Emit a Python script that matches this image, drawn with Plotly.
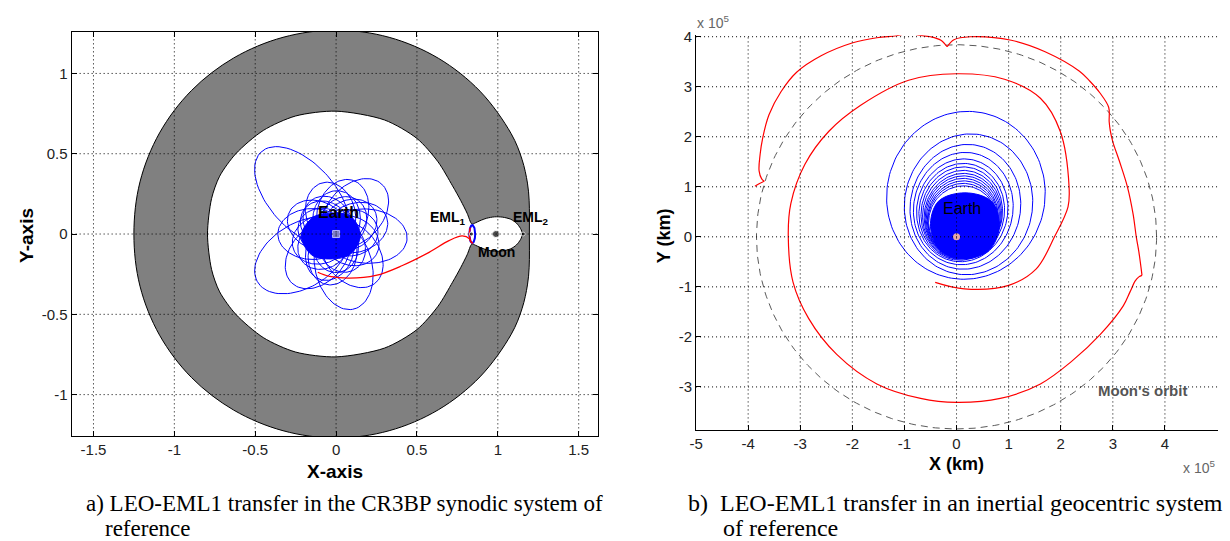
import numpy as np
import plotly.graph_objects as go

# ================= Panel a) CR3BP synodic frame =================
a_xticks = [-1.5, -1, -0.5, 0, 0.5, 1, 1.5]
a_xticklabels = ["-1.5", "-1", "-0.5", "0", "0.5", "1", "1.5"]
a_yticks = [-1, -0.5, 0, 0.5, 1]
a_yticklabels = ["-1", "-0.5", "0", "0.5", "1"]

# zero-velocity curve: outer boundary (upper half, polar)
zvc_outer_deg = [0, 5, 10, 15, 22, 30, 45, 60, 75, 90, 105, 120, 135, 150, 165, 180]
zvc_outer_r = [1.195, 1.20, 1.212, 1.225, 1.24, 1.25, 1.258, 1.264, 1.268, 1.27,
               1.268, 1.266, 1.264, 1.26, 1.255, 1.25]

# zero-velocity curve: inner boundary (upper half, from L2 tip over Moon lobe, neck, Earth region)
zvc_inner_x = [1.152, 1.14, 1.115, 1.08, 1.03, 0.98, 0.93, 0.89, 0.862, 0.84,
               0.81, 0.77, 0.72, 0.63, 0.50, 0.30, 0.0, -0.25, -0.45, -0.62, -0.72, -0.77, -0.795]
zvc_inner_y = [0.0, 0.035, 0.068, 0.092, 0.105, 0.107, 0.098, 0.083, 0.07, 0.062,
               0.13, 0.21, 0.30, 0.45, 0.595, 0.71, 0.765, 0.735, 0.645, 0.50, 0.36, 0.22, 0.0]

# rosette of Earth-bound loops: apogee direction (deg), apogee and perigee distance
petal_dir = [132, -4, 212, -77, 48, 73, 180, 229, -52, 105, 155, 18, -100, 250,
             35, 200, 88, -25, 125, -140, 60, 165, -65, 270, 5, 140]
petal_apo = [0.69, 0.44, 0.57, 0.48, 0.42, 0.35, 0.36, 0.41, 0.39, 0.33, 0.32, 0.33, 0.32, 0.30,
             0.28, 0.28, 0.27, 0.28, 0.26, 0.27, 0.25, 0.24, 0.25, 0.24, 0.26, 0.25]
petal_peri = [0.06, 0.065, 0.07, 0.065, 0.07, 0.07, 0.07, 0.07, 0.07, 0.07, 0.07, 0.07, 0.07, 0.07,
              0.08, 0.08, 0.08, 0.08, 0.08, 0.08, 0.08, 0.08, 0.08, 0.08, 0.08, 0.08]

# dense LEO core (polar radii around its centre)
a_core_center = (-0.03, -0.01)
a_core_deg = [0, 45, 90, 135, 180, 225, 270, 315, 360]
a_core_r = [0.18, 0.17, 0.14, 0.16, 0.185, 0.17, 0.145, 0.165, 0.18]

# transfer arc (red) into the L1 orbit
a_red_x = [-0.113, -0.04, 0.082, 0.246, 0.41, 0.575, 0.698, 0.78, 0.825, 0.833]
a_red_y = [-0.238, -0.264, -0.275, -0.258, -0.196, -0.114, -0.041, -0.012, -0.03, -0.05]

# L1 periodic orbit (ellipse centre, semi-axes)
l1_orbit = dict(cx=0.842, cy=0.0, ax=0.018, ay=0.056)

bodies_x = [0.0, 0.836, 0.988, 1.156]
bodies_y = [0.0, 0.0, 0.0, 0.0]

# ================= Panel b) inertial geocentric frame (x 1e5 km) =================
b_xticks = [-5, -4, -3, -2, -1, 0, 1, 2, 3, 4]
b_xticklabels = ["-5", "-4", "-3", "-2", "-1", "0", "1", "2", "3", "4"]
b_yticks = [-3, -2, -1, 0, 1, 2, 3, 4]
b_yticklabels = ["-3", "-2", "-1", "0", "1", "2", "3", "4"]

moon_orbit_r = 3.84

# blue spiral loops: centre, semi-axes
loop_cx = [0.18, 0.23, 0.17, 0.13, 0.11, 0.10, 0.10, 0.105, 0.11, 0.11, 0.11, 0.115, 0.115, 0.12]
loop_cy = [0.83, 0.65, 0.60, 0.565, 0.53, 0.50, 0.475, 0.445, 0.42, 0.40, 0.375, 0.355, 0.33, 0.31]
loop_ax = [1.52, 1.23, 1.06, 0.955, 0.875, 0.82, 0.78, 0.755, 0.73, 0.71, 0.69, 0.675, 0.665, 0.655]
loop_ay = [1.68, 1.41, 1.25, 1.125, 1.03, 0.97, 0.925, 0.885, 0.85, 0.82, 0.795, 0.765, 0.74, 0.71]

b_core_center = (0.16, 0.2)
b_core_deg = [0, 45, 90, 135, 180, 225, 270, 315, 360]
b_core_r = [0.66, 0.72, 0.68, 0.72, 0.66, 0.66, 0.64, 0.66, 0.66]

# red transfer trajectory (segments separated at cusps)
b_red_x = [-0.41, 0.15, 1.0, 1.53, 1.88, 2.14, 2.16, 1.99, 1.61, 0.92, 0.0, -0.92, -1.84, -2.45,
           -2.91, -3.18, -3.23, -3.14, -2.84, -2.30, -1.53, -0.69, 0.0, 0.84, 1.61, 2.22, 2.76,
           3.2, 3.33, 3.43, 3.5, 3.56, None,
           3.56, 3.5, 3.45, 3.39, 3.28, 3.13, 3.0, 2.95, 2.93, 2.92, 2.75, 2.56, 2.36, 1.7,
           1.05, 0.26, -0.05, -0.18, None,
           -0.18, -0.3, -0.5, -0.72, -0.9, -1.15, -1.53, -1.99, -2.6, -3.07, -3.37, -3.6, -3.72,
           -3.77, -3.79, -3.74, -3.69, None,
           -3.69, -3.79, -3.87]
b_red_y = [-0.91, -1.04, -0.97, -0.64, 0.0, 0.6, 1.0, 2.11, 2.77, 3.15, 3.26, 3.13, 2.63, 2.11,
           1.45, 0.67, 0.01, -0.90, -1.63, -2.35, -2.94, -3.23, -3.31, -3.23, -2.94, -2.48, -1.95,
           -1.38, -1.1, -0.88, -0.8, -0.77, None,
           -0.77, -0.3, 0.0, 0.45, 1.0, 1.5, 1.9, 2.13, 2.3, 2.59, 2.88, 3.11, 3.31, 3.7,
           3.93, 4.0, 3.94, 3.8, None,
           3.8, 3.93, 4.0, 4.03, 4.07, 4.02, 3.98, 3.88, 3.62, 3.29, 2.9, 2.44, 1.98,
           1.65, 1.32, 1.16, 1.11, None,
           1.11, 1.06, 1.01]

# ---------------------------------------------------------------
FONT = "Liberation Sans, Arial, sans-serif"
SERIF = "Liberation Serif, Times New Roman, serif"
BLUE = "#0000ff"
RED = "#ff0000"

fig = go.Figure()


def polar_closed(deg, r, c=(0.0, 0.0)):
    t = np.radians(deg)
    return (c[0] + np.array(r) * np.cos(t)).tolist(), (c[1] + np.array(r) * np.sin(t)).tolist()


# --- gray forbidden region (disk) ---
up_deg = zvc_outer_deg
full_deg = up_deg + [360 - d for d in up_deg[::-1][1:]]
full_r = zvc_outer_r + zvc_outer_r[::-1][1:]
ox, oy = polar_closed(full_deg, full_r)
fig.add_trace(go.Scatter(x=ox, y=oy, mode="lines", fill="toself", fillcolor="#808080",
                         line=dict(color="black", width=1, shape="spline"),
                         xaxis="x", yaxis="y", hoverinfo="skip", showlegend=False))

# --- allowed region (white hole) ---
hx = zvc_inner_x + zvc_inner_x[::-1][1:]
hy = zvc_inner_y + [-v for v in zvc_inner_y[::-1][1:]]
fig.add_trace(go.Scatter(x=hx, y=hy, mode="lines", fill="toself", fillcolor="white",
                         line=dict(color="black", width=1, shape="spline", smoothing=0.8),
                         xaxis="x", yaxis="y", hoverinfo="skip", showlegend=False))

# --- rosette loops ---
px, py = [], []
nu = np.linspace(0, 2 * np.pi, 220)
for d, ra, rp in zip(petal_dir, petal_apo, petal_peri):
    a = (ra + rp) / 2
    e = (ra - rp) / (ra + rp)
    r = a * (1 - e ** 2) / (1 + e * np.cos(nu))
    w = np.radians(d) + np.pi
    px += (r * np.cos(nu + w)).tolist() + [None]
    py += (r * np.sin(nu + w)).tolist() + [None]
fig.add_trace(go.Scatter(x=px, y=py, mode="lines", line=dict(color=BLUE, width=1),
                         xaxis="x", yaxis="y", hoverinfo="skip", showlegend=False))

cx_, cy_ = polar_closed(a_core_deg, a_core_r, a_core_center)
fig.add_trace(go.Scatter(x=cx_, y=cy_, mode="lines", fill="toself", fillcolor=BLUE,
                         line=dict(color=BLUE, width=1, shape="spline"),
                         xaxis="x", yaxis="y", hoverinfo="skip", showlegend=False))

# --- L1 orbit ---
tt = np.linspace(0, 2 * np.pi, 80)
fig.add_trace(go.Scatter(x=(l1_orbit["cx"] + l1_orbit["ax"] * np.cos(tt)).tolist(),
                         y=(l1_orbit["cy"] + l1_orbit["ay"] * np.sin(tt)).tolist(),
                         mode="lines", line=dict(color=BLUE, width=2),
                         xaxis="x", yaxis="y", hoverinfo="skip", showlegend=False))
ts = np.linspace(np.pi * 0.75, np.pi * 1.6, 30)
fig.add_trace(go.Scatter(x=(l1_orbit["cx"] + l1_orbit["ax"] * np.cos(ts)).tolist(),
                         y=(l1_orbit["cy"] + l1_orbit["ay"] * np.sin(ts)).tolist(),
                         mode="lines", line=dict(color=RED, width=1.5),
                         xaxis="x", yaxis="y", hoverinfo="skip", showlegend=False))

# --- red transfer ---
fig.add_trace(go.Scatter(x=a_red_x, y=a_red_y, mode="lines",
                         line=dict(color=RED, width=1.3, shape="spline"),
                         xaxis="x", yaxis="y", hoverinfo="skip", showlegend=False))

# --- bodies ---
fig.add_trace(go.Scatter(x=bodies_x, y=bodies_y, mode="markers",
                         marker=dict(color=["#b4b4b4", "black", "black", "black"],
                                     size=[7, 4, 7, 4], symbol=["square", "circle", "circle", "circle"]),
                         xaxis="x", yaxis="y", hoverinfo="skip", showlegend=False))

# ================= panel b traces =================
tc = np.linspace(0, 2 * np.pi, 361)
fig.add_trace(go.Scatter(x=(moon_orbit_r * np.cos(tc)).tolist(), y=(moon_orbit_r * np.sin(tc)).tolist(),
                         mode="lines", line=dict(color="#5a5a5a", width=1, dash="7px,5px"),
                         xaxis="x2", yaxis="y2", hoverinfo="skip", showlegend=False))

lx, ly = [], []
te = np.linspace(0, 2 * np.pi, 160)
tilt = np.radians(-7)
for cx, cy, ax_, ay_ in zip(loop_cx, loop_cy, loop_ax, loop_ay):
    ex = ax_ * np.cos(te)
    ey = ay_ * np.sin(te)
    lx += (cx + ex * np.cos(tilt) - ey * np.sin(tilt)).tolist() + [None]
    ly += (cy + ex * np.sin(tilt) + ey * np.cos(tilt)).tolist() + [None]
fig.add_trace(go.Scatter(x=lx, y=ly, mode="lines", line=dict(color=BLUE, width=1),
                         xaxis="x2", yaxis="y2", hoverinfo="skip", showlegend=False))

bx_, by_ = polar_closed(b_core_deg, b_core_r, b_core_center)
fig.add_trace(go.Scatter(x=bx_, y=by_, mode="lines", fill="toself", fillcolor=BLUE,
                         line=dict(color=BLUE, width=1, shape="spline"),
                         xaxis="x2", yaxis="y2", hoverinfo="skip", showlegend=False))

fig.add_trace(go.Scatter(x=b_red_x, y=b_red_y, mode="lines",
                         line=dict(color=RED, width=1.2, shape="spline"), connectgaps=False,
                         xaxis="x2", yaxis="y2", hoverinfo="skip", showlegend=False))

fig.add_trace(go.Scatter(x=[0.0], y=[0.0], mode="markers",
                         marker=dict(color="#e8a8a8", size=7),
                         xaxis="x2", yaxis="y2", hoverinfo="skip", showlegend=False))

# ================= grid (dotted, above traces) =================
grid = dict(color="black", width=1, dash="1px,3px")
shapes = []
for v in a_xticks:
    shapes.append(dict(type="line", xref="x", yref="y domain", x0=v, x1=v, y0=0, y1=1, line=grid, layer="above"))
for v in a_yticks:
    shapes.append(dict(type="line", xref="x domain", yref="y", x0=0, x1=1, y0=v, y1=v, line=grid, layer="above"))
for v in b_xticks[1:]:
    shapes.append(dict(type="line", xref="x2", yref="y2 domain", x0=v, x1=v, y0=0, y1=1, line=grid, layer="above"))
for v in b_yticks:
    shapes.append(dict(type="line", xref="x2 domain", yref="y2", x0=0, x1=1, y0=v, y1=v, line=grid, layer="above"))

W, H = 1230, 541
tickfont = dict(family=FONT, size=15, color="#222")

axis_common = dict(showgrid=False, zeroline=False, ticks="inside", ticklen=5, tickwidth=1,
                   tickcolor="black", linecolor="black", linewidth=1, showline=True,
                   tickfont=tickfont, layer="above traces", fixedrange=True)

fig.update_layout(
    width=W, height=H, autosize=False,
    margin=dict(l=0, r=0, t=0, b=0),
    paper_bgcolor="white", plot_bgcolor="white",
    showlegend=False,
    xaxis=dict(domain=[65 / W, 594 / W], range=[-1.635, 1.617], anchor="y", mirror="ticks",
               tickvals=a_xticks, ticktext=a_xticklabels, **axis_common),
    yaxis=dict(domain=[1 - 435 / H, 1 - 25 / H], range=[-1.26, 1.26], anchor="x", mirror="ticks",
               tickvals=a_yticks, ticktext=a_yticklabels, **axis_common),
    xaxis2=dict(domain=[693 / W, 1218 / W], range=[-5.0, 5.02], anchor="y2", mirror=False,
                tickvals=b_xticks, ticktext=b_xticklabels, **axis_common),
    yaxis2=dict(domain=[1 - 429 / H, 1 - 28.6 / H], range=[-3.87, 4.03], anchor="x2", mirror=False,
                tickvals=b_yticks, ticktext=b_yticklabels, **axis_common),
    shapes=shapes,
)

ann = []


def paper_text(text, x, y, size, color="black", angle=0, xanchor="center", family=FONT):
    ann.append(dict(text=text, x=x / W, y=1 - y / H, xref="paper", yref="paper", showarrow=False,
                    font=dict(family=family, size=size, color=color), textangle=angle,
                    xanchor=xanchor, yanchor="middle"))


paper_text("<b>X-axis</b>", 330, 471, 19)
paper_text("<b>Y-axis</b>", 19, 231, 19, angle=-90)
paper_text("<b>X (km)</b>", 955, 463, 18)
paper_text("<b>Y (km)</b>", 661, 232, 18, angle=-90)
paper_text("x 10<sup>5</sup>", 710, 15, 14, color="#666")
paper_text("x 10<sup>5</sup>", 1199, 466, 14, color="#666")

paper_text("a) LEO-EML1 transfer in the CR3BP synodic system of", 77, 503, 23, family=SERIF, xanchor="left")
paper_text("reference", 97, 528, 23, family=SERIF, xanchor="left")
paper_text("b)  LEO-EML1 transfer in an inertial geocentric system", 683, 503, 24, family=SERIF, xanchor="left")
paper_text("of reference", 718, 528, 24, family=SERIF, xanchor="left")


def data_text(text, x, y, xr, yr, size, color="black"):
    ann.append(dict(text=text, x=x, y=y, xref=xr, yref=yr, showarrow=False,
                    font=dict(family=FONT, size=size, color=color), xanchor="center", yanchor="middle"))


data_text("<b>Earth</b>", 0.015, 0.135, "x", "y", 16)
data_text("<b>EML<sub>1</sub></b>", 0.69, 0.10, "x", "y", 14)
data_text("<b>Moon</b>", 0.99, -0.11, "x", "y", 14)
data_text("<b>EML<sub>2</sub></b>", 1.205, 0.10, "x", "y", 14)
data_text("Earth", 0.1, 0.57, "x2", "y2", 16)
data_text("<b>Moon's orbit</b>", 3.56, -3.08, "x2", "y2", 15, color="#555")

fig.update_layout(annotations=ann)
fig.write_html("out.html",
               config={"displayModeBar": False, "staticPlot": False},
               post_script="document.body.style.margin='0';document.body.style.padding='0';"
                           "document.body.style.overflow='hidden';")
